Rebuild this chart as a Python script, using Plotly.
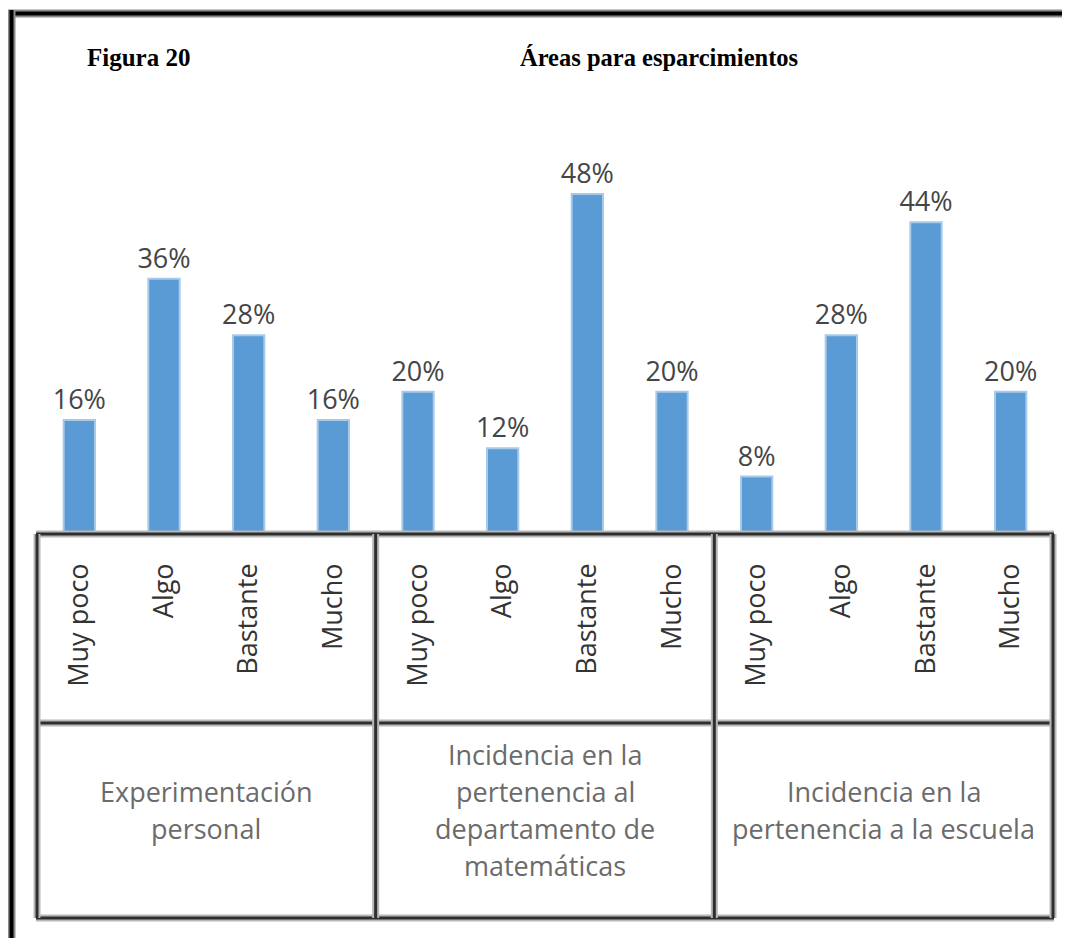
import plotly.graph_objects as go

# ---- data ----
categories = ["Muy poco", "Algo", "Bastante", "Mucho"]
group_lines = [
    ["Experimentación", "personal"],
    ["Incidencia en la", "pertenencia al", "departamento de", "matemáticas"],
    ["Incidencia en la", "pertenencia a la escuela"],
]
values_experimentacion = [16, 36, 28, 16]
values_departamento = [20, 12, 48, 20]
values_escuela = [8, 28, 44, 20]
title_left = "Figura 20"
title_right = "Áreas para esparcimientos"

values = values_experimentacion + values_departamento + values_escuela
tick_labels = categories * 3
xs = list(range(len(values)))

# ---- layout geometry (page pixels; page body has an 8px margin) ----
OFF = 8
W, H = 1070 - OFF, 938 - OFF
L, R = 37, 1053
T, B = 180, 533
pw, ph = R - L, B - T


def px_x(p):
    return (p - L) / pw


def px_y(p):
    return (B - p) / ph


fig = go.Figure()
fig.add_trace(go.Bar(
    x=xs, y=values,
    marker=dict(color="#5B9BD5", line=dict(color="#A8CAEA", width=2)),
    texttemplate="%{y}%", textposition="outside", constraintext="none",
    textfont=dict(family="Open Sans", size=27, color="#454545"),
    cliponaxis=False, hoverinfo="skip",
))

shapes = []


def line(x0, y0, x1, y1, halo_w, halo_c, core_w, core_c):
    for w, c in ((halo_w, halo_c), (core_w, core_c)):
        shapes.append(dict(type="line", xref="paper", yref="paper",
                           x0=px_x(x0), y0=px_y(y0), x1=px_x(x1), y1=px_y(y1),
                           line=dict(color=c, width=w), layer="above"))


# outer frame (top and left)
line(8, 13.5, 1070, 13.5, 8, "#8c8c8c", 4, "#000000")
line(11.5, 10, 11.5, 938, 8, "#8c8c8c", 4, "#000000")

# table
rows_y = [534, 723, 918]
cols_x = [L + i * pw / 3 for i in range(4)]
for yv in rows_y:
    line(L - 1, yv, R + 1, yv, 7, "#b8b8b8", 3, "#2e2e2e")
for xv in cols_x:
    line(xv, rows_y[0], xv, rows_y[-1], 7, "#b8b8b8", 3, "#2e2e2e")

annotations = []
# group labels
spacing = 37
center_y = 810
for gi, lines in enumerate(group_lines):
    n = len(lines)
    for li, txt in enumerate(lines):
        yc = center_y + (li - (n - 1) / 2) * spacing
        annotations.append(dict(
            text=txt, xref="paper", yref="paper",
            x=(gi + 0.5) / 3, y=px_y(yc), xanchor="center", yanchor="middle",
            showarrow=False,
            font=dict(family="Open Sans", size=27, color="#6b6b6b")))

# titles
annotations.append(dict(text="<b>" + title_left + "</b>", xref="paper", yref="paper",
                        x=px_x(85), y=px_y(58), xanchor="left", yanchor="middle",
                        showarrow=False,
                        font=dict(family="Liberation Serif", size=25, color="#000000")))
annotations.append(dict(text="<b>" + title_right + "</b>", xref="paper", yref="paper",
                        x=px_x(800), y=px_y(58), xanchor="right", yanchor="middle",
                        showarrow=False,
                        font=dict(family="Liberation Serif", size=24.5, color="#000000")))

fig.update_layout(
    width=W, height=H,
    margin=dict(l=L - OFF, r=W - (R - OFF), t=T - OFF, b=H - (B - OFF), pad=0),
    paper_bgcolor="white", plot_bgcolor="white",
    showlegend=False, bargap=0.63,
    shapes=shapes, annotations=annotations,
    xaxis=dict(tickmode="array", tickvals=xs, ticktext=tick_labels,
               range=[-0.5, len(values) - 0.5], tickangle=-90,
               showgrid=False, zeroline=False, showline=False, ticks="",
               ticklabelstandoff=24,
               tickfont=dict(family="Open Sans", size=27, color="#333333")),
    yaxis=dict(range=[0, 50], visible=False, showgrid=False, zeroline=False),
)

fig.write_html("out.html")
